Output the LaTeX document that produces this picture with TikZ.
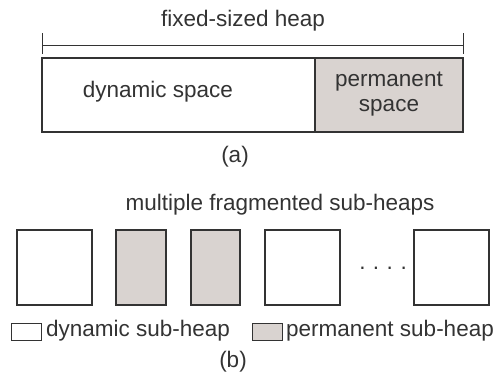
\documentclass[tikz,border=0pt]{standalone}
\usepackage{fontspec}
\setmainfont{Liberation Sans}
\definecolor{ink}{HTML}{333333}
\definecolor{permfill}{HTML}{D9D3D0}
\begin{document}
\begin{tikzpicture}[x=1pt,y=-1pt,
  every node/.style={text=ink, font=\fontsize{22.5}{25}\selectfont},
  heapbox/.style={draw=ink, line width=1.1pt, inner sep=0pt, outer sep=0pt, anchor=north west},
  dynbox/.style={heapbox, fill=white},
  permbox/.style={heapbox, fill=permfill},
  label/.style={inner sep=0pt, align=center},
  dimline/.style={draw=ink, line width=0.9pt}]
\useasboundingbox (0,0) rectangle (501,378);

% (a) fixed-sized heap
\node[label] (title) at (243,21) {fixed-sized heap};
\coordinate (dl) at (42,45);
\coordinate (dr) at (463,45);
\coordinate (dlt) at (42,33);
\coordinate (dlb) at (42,54);
\coordinate (drt) at (463,33);
\coordinate (drb) at (463,54);
\draw[dimline] (dl) -- (dr);
\draw[dimline] (dlt) -- (dlb);
\draw[dimline] (drt) -- (drb);

\node[dynbox, minimum width=273pt, minimum height=74pt] (dyn) at (42,58) {};
\node[permbox, minimum width=148pt, minimum height=74pt] (perm) at (315,58) {};
\node[label] (dyntext) at (158,92) {dynamic space};
\node[label] (permtext) at (389,94) {permanent\\space};
\node[label] (capa) at (235,157) {(a)};

% (b) multiple fragmented sub-heaps
\node[label] (titleb) at (280,205) {multiple fragmented sub-heaps};
\node[dynbox, minimum width=75pt, minimum height=75pt] (s1) at (17,230) {};
\node[permbox, minimum width=50pt, minimum height=75pt] (s2) at (116,230) {};
\node[permbox, minimum width=49pt, minimum height=75pt] (s3) at (191,230) {};
\node[dynbox, minimum width=75pt, minimum height=75pt] (s4) at (265,230) {};
\node[dynbox, minimum width=75pt, minimum height=75pt] (s5) at (414,230) {};
\node[label] (dots) at (383,268) {.\,\,.\,\,.\,\,.};

% legend
\node[dynbox, minimum width=30pt, minimum height=17pt, line width=0.9pt] (ld) at (11,323) {};
\node[label, anchor=west] (ldtext) at (46,331) {dynamic sub-heap};
\node[permbox, minimum width=30pt, minimum height=17pt, line width=0.9pt] (lp) at (252,323) {};
\node[label, anchor=west] (lptext) at (286,331) {permanent sub-heap};
\node[label] (capb) at (233,362) {(b)};
\end{tikzpicture}
\end{document}
